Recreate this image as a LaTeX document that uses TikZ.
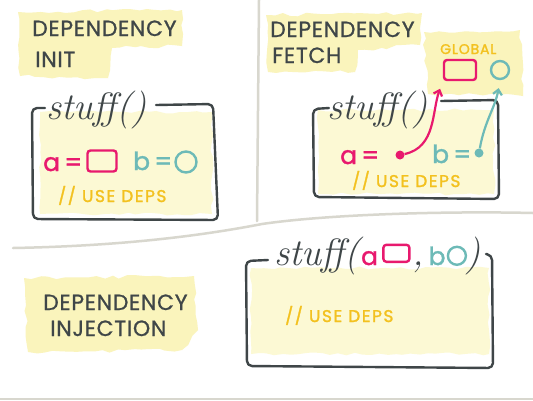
\documentclass[tikz,border=0pt]{standalone}
\usepackage{fontspec}
\usetikzlibrary{arrows.meta,decorations.pathmorphing,positioning}
\newfontfamily\handfont[FakeBold=0.9,LetterSpace=3]{Poppins}
\newfontfamily\symfont[FakeBold=1.4]{Poppins}
\newfontfamily\remarkfont[LetterSpace=9,FakeBold=1.6]{Poppins}
\newfontfamily\tagfont[LetterSpace=6,FakeBold=1.6]{Poppins}
\definecolor{ink}{HTML}{3F4648}
\definecolor{rosa}{HTML}{E8196E}
\definecolor{tealink}{HTML}{6DBAB7}
\definecolor{marker}{HTML}{F3C11F}
\definecolor{glow}{HTML}{FAF4BC}
\definecolor{paper}{HTML}{FCF9D4}
\definecolor{rule}{HTML}{D8D7CE}
\begin{document}
\begin{tikzpicture}[x=1pt,y=-1pt,
  hand/.style={draw=ink, line width=2.4pt, line cap=round, line join=round, rounded corners=5pt},
  blob/.style={fill=glow, decorate, decoration={random steps, segment length=8pt, amplitude=1.8pt}},
  wash/.style={fill=paper, decorate, decoration={random steps, segment length=8pt, amplitude=1.5pt}},
  heading/.style={anchor=base west, inner sep=0, text=ink, font=\handfont\fontsize{22}{26}\selectfont},
  callname/.style={anchor=base west, inner sep=0, text=ink, font=\fontsize{38}{40}\selectfont\itshape},
  sym/.style={anchor=base west, inner sep=0, font=\symfont\fontsize{25}{28}\selectfont},
  remark/.style={anchor=base west, inner sep=0, text=marker, font=\remarkfont\fontsize{17}{20}\selectfont},
  tag/.style={anchor=base west, inner sep=0, text=marker, font=\tagfont\fontsize{14}{16}\selectfont},
  pinkbox/.style={draw=rosa, line width=2.4pt, rounded corners=3pt, inner sep=0},
  tealring/.style={circle, draw=tealink, line width=2.4pt, inner sep=0},
  dot/.style={circle, inner sep=0, minimum size=9pt},
  link/.style={line width=2.2pt, -{Straight Barb[length=5pt,width=9pt]}, shorten >=8pt},
  divider/.style={draw=rule, line width=2.5pt, line cap=round}
]
\fill[white] (0,0) rectangle (533,400);
\useasboundingbox (0,0) rectangle (533,400);

% Dividers
\draw[divider] (259,0) -- (257,221);
\draw[divider] (13,248) .. controls (120,246) and (200,236) .. (262,224) .. controls (330,214) and (450,211) .. (533,213);
\draw[rule, line width=2pt] (0,399) -- (533,399);

% Dependency init
\fill[blob] (18,12) -- (182,10) -- (182,46) -- (112,48) -- (108,78) -- (20,76) -- cycle;
\fill[wash] (40,112) rectangle (212,214);
\node[heading] (initTop) at (32,36) {DEPENDENCY};
\node[heading] (initBot) at (35,67) {INIT};
\draw[hand] (45,108) -- (32,108) -- (33,219) -- (218,220) -- (213,104) -- (156,105);
\node[callname] (initCall) at (46,119) {stuff()};
\node[sym, text=rosa] (initA) at (43,171) {a\,=};
\node[pinkbox, minimum width=29pt, minimum height=21pt] (initSq) at (102,161) {};
\node[sym, text=tealink] (initB) at (133,170) {b\,=};
\node[tealring, minimum size=21pt] (initRing) at (186,162) {};
\node[remark] (initUse) at (58,202) {// USE DEPS};

% Dependency fetch
\fill[blob] (266,15) -- (422,13) -- (420,45) -- (358,50) -- (355,72) -- (268,72) -- cycle;
\fill[blob] (424,32) -- (520,30) -- (523,96) -- (428,94) -- cycle;
\fill[wash] (318,110) rectangle (494,194);
\node[heading] (fetchTop) at (270,37) {DEPENDENCY};
\node[heading] (fetchBot) at (272,63) {FETCH};
\node[tag] (fetchGlobal) at (440,54) {GLOBAL};
\node[pinkbox, minimum width=32pt, minimum height=20pt] (globalSq) at (460,70) {};
\node[tealring, minimum size=18pt] (globalRing) at (500,70) {};
\draw[hand] (329,108) -- (313,109) -- (314,197) -- (499,199) -- (498,100) -- (441,101);
\node[callname] (fetchCall) at (327,119) {stuff()};
\node[sym, text=rosa] (fetchA) at (340,164) {a\,=};
\node[dot, fill=rosa] (fetchADot) at (400,155) {};
\node[sym, text=tealink] (fetchB) at (432,163) {b\,=};
\node[dot, fill=tealink] (fetchBDot) at (479,153) {};
\node[remark] (fetchUse) at (352,187) {// USE DEPS};
\draw[link, rosa] (fetchADot) to[out=12, in=-110] (globalSq.south west);
\draw[link, tealink] (fetchBDot) to[out=80, in=-100] (globalRing.south);

% Dependency injection
\fill[blob] (24,278) -- (194,276) -- (198,330) -- (182,350) -- (28,352) -- cycle;
\fill[wash] (251,268) rectangle (489,354);
\node[heading] (injTop) at (43,310) {DEPENDENCY};
\node[heading] (injBot) at (50,336) {INJECTION};
\draw[hand] (268,260) -- (246,261) -- (247,366) -- (493,368) -- (492,255) -- (486,254);
\node[callname] (injCall) at (274,265) {stuff(};
\node[sym, text=rosa] (injA) at ([xshift=1pt]injCall.base east) {a};
\node[pinkbox, minimum width=26pt, minimum height=17pt, anchor=south west] (injSq) at ([xshift=4pt,yshift=2pt]injA.base east) {};
\node[callname] (injComma) at ([xshift=2pt,yshift=-2pt]injSq.south east) {,};
\node[sym, text=tealink] (injB) at ([xshift=4pt]injComma.base east) {b};
\node[tealring, minimum size=18pt, anchor=south west] (injRing) at ([xshift=4pt,yshift=2pt]injB.base east) {};
\node[callname] (injClose) at ([xshift=1pt,yshift=-2pt]injRing.south east) {)};
\node[remark] (injUse) at (285,322) {// USE DEPS};
\end{tikzpicture}
\end{document}
